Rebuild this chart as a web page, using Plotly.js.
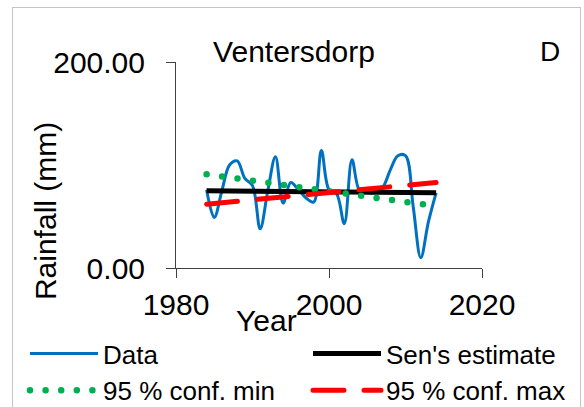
<!DOCTYPE html>
<html>
<head>
<meta charset="utf-8">
<script src="https://cdn.plot.ly/plotly-3.0.1.min.js"></script>
<style>
  html, body { margin: 0; padding: 0; background: #fff; }
  #wrap { position: relative; width: 584px; height: 407px; overflow: hidden; }
  #frame { position: absolute; left: 12px; top: 7px; width: 569px; height: 420px;
           border: 1.5px solid #c4c4c4; pointer-events: none; box-sizing: border-box; }
  .scatterlayer .trace:nth-child(3) path.js-line,
  .scatterlayer .trace:nth-child(4) path.js-line,
  .infolayer .traces:nth-child(2) .legendlines path { stroke-linecap: round; }
</style>
</head>
<body>
<div id="wrap"><div id="chart" style="width:584px;height:407px;"></div><div id="frame"></div></div>
<script>
// ---- data ----
const years = [1984, 1985, 1986, 1987, 1988, 1989, 1990, 1991, 1992, 1993, 1994,
               1995, 1996, 1997, 1998, 1999, 2000, 2001, 2002, 2003, 2004,
               2005, 2006, 2007, 2008, 2009, 2010, 2011, 2012, 2013, 2014];
const rainfall = [76, 49, 75, 100, 104, 87, 80, 38, 75, 108, 63,
                  83, 76, 68, 64, 114, 76, 72, 43, 105, 75,
                  73, 73, 78, 95, 109, 109, 60, 10, 45, 73];
const trendYears = [1984, 2014];
const senEstimate = [75, 73];
const confMin = [91, 60];
const confMax = [62, 83];
const seriesNames = ["Data", "Sen's estimate", "95 % conf. min", "95 % conf. max"];
const xTicks = [1980, 2000, 2020];
const yTicks = [0, 200];
const chartTitle = "Ventersdorp";
const panelLabel = "D";
const xTitle = "Year";
const yTitle = "Rainfall (mm)";

const FONT = "Arial, 'Liberation Sans', sans-serif";

const traces = [
  { x: years, y: rainfall, name: seriesNames[0], type: 'scatter', mode: 'lines', legend: 'legend',
    line: { color: '#0070C0', width: 3, shape: 'spline', smoothing: 1 } },
  { x: trendYears, y: senEstimate, name: seriesNames[1], type: 'scatter', mode: 'lines', legend: 'legend2',
    line: { color: '#000000', width: 5 } },
  { x: trendYears, y: confMin, name: seriesNames[2], type: 'scatter', mode: 'lines', legend: 'legend',
    line: { color: '#00B050', width: 6.5, dash: '0px,15.6px' } },
  { x: trendYears, y: confMax, name: seriesNames[3], type: 'scatter', mode: 'lines', legend: 'legend2',
    line: { color: '#FF0000', width: 5, dash: '31px,20px' } }
];

const axisCommon = {
  showgrid: false, zeroline: false, showline: true, linecolor: '#404040', linewidth: 1,
  ticks: 'outside', ticklen: 9, tickcolor: '#404040', tickwidth: 1,
  tickfont: { family: FONT, size: 30, color: '#000' }, automargin: false
};

const legendCommon = {
  orientation: 'v', xref: 'container', yref: 'container', xanchor: 'left', yanchor: 'top',
  y: 1 - 330 / 407, itemwidth: 68, font: { family: FONT, size: 26, color: '#000' },
  bgcolor: 'rgba(0,0,0,0)', borderwidth: 0, tracegroupgap: 0
};

const layout = {
  width: 584, height: 407, autosize: false,
  paper_bgcolor: '#fff', plot_bgcolor: '#fff',
  margin: { l: 176, r: 102, t: 62, b: 139, pad: 0, autoexpand: false },
  font: { family: FONT, color: '#000' },
  title: { text: chartTitle, font: { family: FONT, size: 30, color: '#000' },
           xref: 'container', yref: 'container', x: 294 / 584, xanchor: 'center',
           y: 1 - 51 / 407, yanchor: 'middle' },
  xaxis: Object.assign({}, axisCommon, { range: [1980, 2020], tickvals: xTicks,
           ticktext: xTicks.map(String), ticklabelstandoff: 1 }),
  yaxis: Object.assign({}, axisCommon, { range: [0, 200], tickvals: yTicks,
           tickformat: '.2f', ticklabelstandoff: 15 }),
  showlegend: true,
  legend: Object.assign({}, legendCommon, { x: 25 / 584 }),
  legend2: Object.assign({}, legendCommon, { x: 308 / 584 }),
  annotations: [
    { text: panelLabel, xref: 'paper', yref: 'paper', x: (550 - 176) / 306, y: (268 - 51) / 206.3,
      xanchor: 'center', yanchor: 'middle', showarrow: false,
      font: { family: FONT, size: 28, color: '#000' } },
    { text: yTitle, xref: 'paper', yref: 'paper', x: (45 - 176) / 306, y: (268 - 211) / 206.3,
      xanchor: 'center', yanchor: 'middle', showarrow: false, textangle: -90,
      font: { family: FONT, size: 30, color: '#000' } },
    { text: xTitle, xref: 'paper', yref: 'paper', x: (266 - 176) / 306, y: (268 - 321) / 206.3,
      xanchor: 'center', yanchor: 'middle', showarrow: false,
      font: { family: FONT, size: 30, color: '#000' } }
  ]
};

Plotly.newPlot('chart', traces, layout, { displayModeBar: false, staticPlot: true });
</script>
</body>
</html>
